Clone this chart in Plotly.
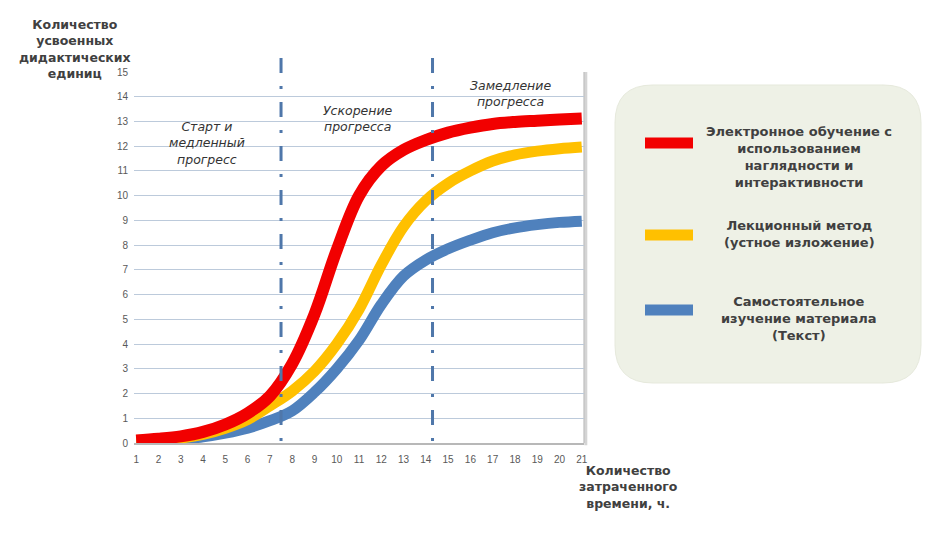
import plotly.graph_objects as go

# ---- data ----
hours = list(range(1, 22))
elearning = [0.1, 0.17, 0.27, 0.45, 0.75, 1.2, 1.9, 3.2, 5.2, 7.8, 10.0, 11.2, 11.85, 12.25, 12.55, 12.75, 12.9, 12.98, 13.03, 13.08, 13.12]
lecture = [0.1, 0.15, 0.2, 0.35, 0.6, 0.95, 1.5, 2.1, 2.9, 4.0, 5.4, 7.2, 8.75, 9.8, 10.5, 11.0, 11.4, 11.65, 11.8, 11.9, 11.97]
selfstudy = [0.1, 0.1, 0.15, 0.25, 0.4, 0.6, 0.9, 1.3, 2.05, 3.0, 4.15, 5.6, 6.75, 7.4, 7.85, 8.2, 8.5, 8.7, 8.83, 8.92, 8.97]
series_names = ["Электронное обучение с<br>использованием<br>наглядности и<br>интерактивности",
                "Лекционный метод<br>(устное изложение)",
                "Самостоятельное<br>изучение материала<br>(Текст)"]
series_colors = ["#f20000", "#ffc000", "#4f81bd"]
phase_bounds = [7.5, 14.3]
phase_labels = ["Старт и<br>медленный<br>прогресс", "Ускорение<br>прогресса", "Замедление<br>прогресса"]
y_title = "Количество<br>усвоенных<br>дидактических<br>единиц"
x_title = "Количество<br>затраченного<br>времени, ч."

# ---- layout geometry (reference pixels; page body has an 8px margin) ----
W, H = 941, 536
OFF = 8
L, R, T, B = 134, 584, 72, 443
XMIN, XMAX = 0.9, 21.1
YMIN, YMAX = 0, 15

def px(x):
    return (x - L) / (R - L)

def py(y):
    return (B - y) / (B - T)

def dx(v):
    return (v - XMIN) / (XMAX - XMIN)

fig = go.Figure()
order = [2, 1, 0]
all_vals = [elearning, lecture, selfstudy]
widths = [12, 11, 11]
for i in order:
    fig.add_trace(go.Scatter(x=hours, y=all_vals[i], mode="lines", name=series_names[i],
                             line=dict(color=series_colors[i], width=widths[i], shape="spline", smoothing=1.0),
                             showlegend=False, hoverinfo="skip"))

shapes = []
# phase separators
for xb in phase_bounds:
    shapes.append(dict(type="line", xref="paper", yref="paper", x0=dx(xb), x1=dx(xb),
                       y0=py(58), y1=0, line=dict(color="#4f77aa", width=3, dash="15px,13px,3px,13px"),
                       layer="above"))
# plot frame (right edge and shadow)
shapes.append(dict(type="line", xref="paper", yref="paper", x0=1.004, x1=1.004, y0=-0.006, y1=1,
                   line=dict(color="#d4d4d4", width=3), layer="below"))
shapes.append(dict(type="line", xref="paper", yref="paper", x0=1, x1=1, y0=0, y1=1,
                   line=dict(color="#b0b0b0", width=1), layer="below"))

# legend rounded box
bx0, by0, bx1, by1, r = 615, 85, 921, 383, 38
def P(xp, yp):
    return f"{px(xp):.5f},{py(yp):.5f}"
path = (f"M {P(bx0 + r, by0)} L {P(bx1 - r, by0)} Q {P(bx1, by0)} {P(bx1, by0 + r)} "
        f"L {P(bx1, by1 - r)} Q {P(bx1, by1)} {P(bx1 - r, by1)} "
        f"L {P(bx0 + r, by1)} Q {P(bx0, by1)} {P(bx0, by1 - r)} "
        f"L {P(bx0, by0 + r)} Q {P(bx0, by0)} {P(bx0 + r, by0)} Z")
shapes.append(dict(type="path", xref="paper", yref="paper", path=path,
                   fillcolor="#eef1e6", line=dict(color="#e6e9dc", width=1), layer="below"))

# legend swatches and texts
sw_y = [143, 235, 310]
txt_y = [157, 234, 318]
for col, yy in zip(series_colors, sw_y):
    shapes.append(dict(type="line", xref="paper", yref="paper", x0=px(645), x1=px(693),
                       y0=py(yy), y1=py(yy), line=dict(color=col, width=11), layer="above"))

annotations = []
lfont = dict(family="DejaVu Sans", size=13, color="#404040")
for name, yy in zip(series_names, txt_y):
    annotations.append(dict(xref="paper", yref="paper", x=px(799), y=py(yy), text="<b>" + name + "</b>",
                            showarrow=False, xanchor="center", yanchor="middle", align="center", font=lfont))

# phase labels
ifont = dict(family="DejaVu Sans", size=12.5, color="#333333", style="italic")
for txt, (cx, cy) in zip(phase_labels, [(207, 143), (358, 118), (510, 93)]):
    annotations.append(dict(xref="paper", yref="paper", x=px(cx), y=py(cy), text=txt,
                            showarrow=False, xanchor="center", yanchor="middle", align="center", font=ifont))

# axis titles
tfont = dict(family="DejaVu Sans", size=12.5, color="#404040")
annotations.append(dict(xref="paper", yref="paper", x=px(75), y=py(49), text="<b>" + y_title + "</b>",
                        showarrow=False, xanchor="center", yanchor="middle", align="center", font=tfont))
annotations.append(dict(xref="paper", yref="paper", x=px(628), y=py(487), text="<b>" + x_title + "</b>",
                        showarrow=False, xanchor="center", yanchor="middle", align="center", font=tfont))

fig.update_layout(
    width=W - 2 * OFF, height=H - 2 * OFF,
    margin=dict(l=L - OFF, r=W - OFF - R, t=T - OFF, b=H - OFF - B),
    paper_bgcolor="white", plot_bgcolor="white",
    shapes=shapes, annotations=annotations,
    xaxis=dict(range=[XMIN, XMAX], tickmode="array", tickvals=hours, ticktext=[str(h) for h in hours],
               showgrid=False, zeroline=False, showline=True, linecolor="#b8b8b8", linewidth=2,
               ticks="", ticklabelstandoff=6,
               tickfont=dict(family="Liberation Sans", size=10, color="#595959")),
    yaxis=dict(range=[YMIN, YMAX], tickmode="linear", tick0=0, dtick=1,
               showgrid=True, gridcolor="#bccadb", gridwidth=1, zeroline=False, showline=False,
               ticks="", ticklabelstandoff=5,
               tickfont=dict(family="Liberation Sans", size=10, color="#595959")),
)

fig.write_html("out.html")
